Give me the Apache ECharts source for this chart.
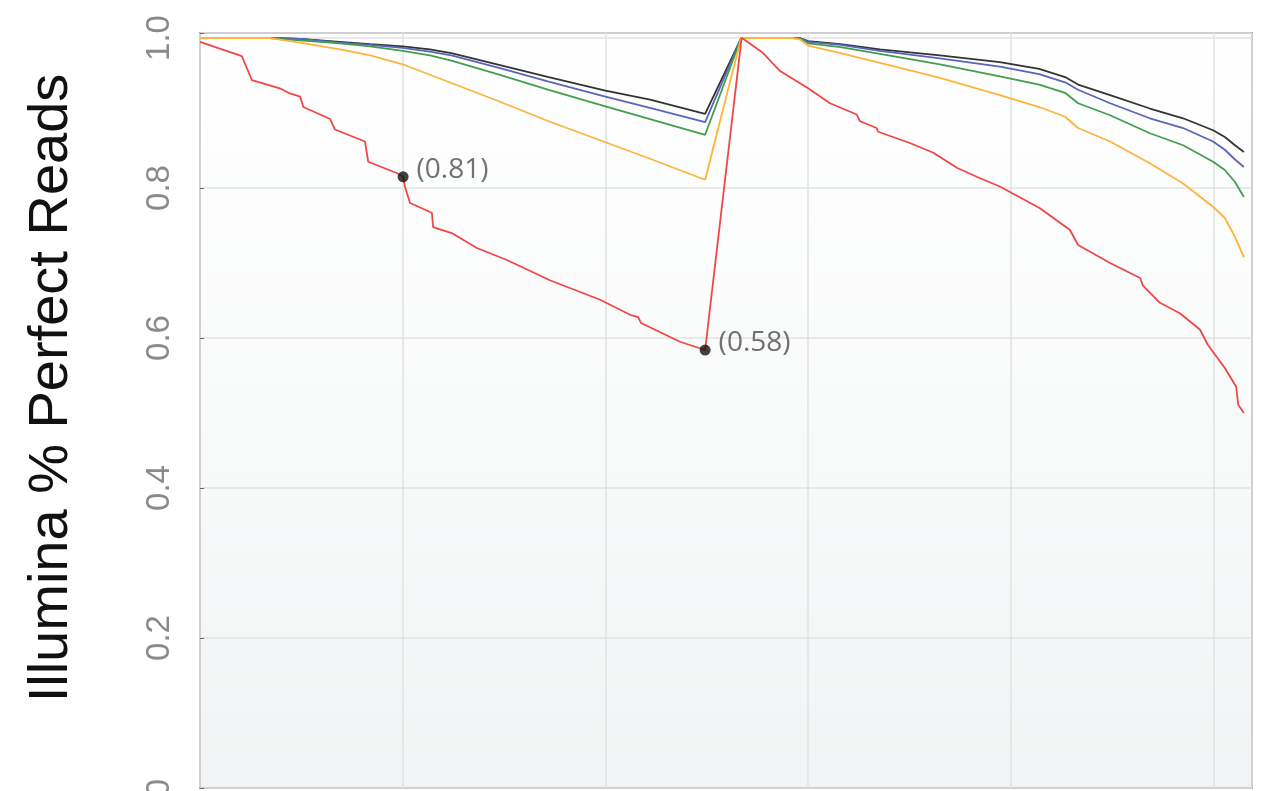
<!DOCTYPE html>
<html>
<head>
<meta charset="utf-8">
<script src="https://cdn.jsdelivr.net/npm/echarts@6/dist/echarts.min.js"></script>
<style>
html,body{margin:0;padding:0;background:#fff;}
#chart{width:1262px;height:791px;}
</style>
</head>
<body>
<div id="chart"></div>
<script>
// ---- data (x = sequencing cycle, y = fraction of perfect reads) ----
const yTicks = [0, 0.2, 0.4, 0.6, 0.8, 1.0];
const yTitle = 'Illumina % Perfect Reads';

const topCycles = [0, 17.3, 19.7, 24.7, 34.5, 42, 50, 56.7, 62, 74, 86, 100, 111, 124.6,
                   133.5, 146.3, 148, 150, 158, 167.7, 182.5, 197.3, 207, 213.4, 216.6, 224.5, 234.3, 242.5, 249.9, 252.8, 255.3, 257.5];
const blackValues  = [1, 1, 1, 0.999, 0.995, 0.992, 0.989, 0.985, 0.980, 0.964, 0.948, 0.930, 0.918, 0.899,
                      1, 1, 1, 0.996, 0.992, 0.985, 0.977, 0.968, 0.959, 0.948, 0.938, 0.924, 0.906, 0.893, 0.877, 0.868, 0.857, 0.848];
const blueValues   = [1, 1, 1, 0.999, 0.994, 0.991, 0.987, 0.982, 0.977, 0.960, 0.942, 0.922, 0.907, 0.888,
                      1, 1, 1, 0.995, 0.991, 0.983, 0.973, 0.962, 0.952, 0.941, 0.931, 0.913, 0.893, 0.880, 0.862, 0.851, 0.838, 0.828];
const greenValues  = [1, 1, 0.999, 0.997, 0.993, 0.989, 0.983, 0.977, 0.970, 0.951, 0.931, 0.909, 0.892, 0.871,
                      1, 1, 0.999, 0.993, 0.988, 0.979, 0.965, 0.949, 0.938, 0.927, 0.913, 0.897, 0.873, 0.857, 0.835, 0.824, 0.808, 0.788];
const orangeValues = [1, 1, 0.998, 0.994, 0.985, 0.977, 0.965, 0.951, 0.940, 0.915, 0.889, 0.861, 0.839, 0.811,
                      1, 1, 0.998, 0.990, 0.980, 0.967, 0.947, 0.924, 0.908, 0.895, 0.880, 0.862, 0.833, 0.806, 0.775, 0.760, 0.735, 0.708];

const redCycles = [0, 10.3, 12.8, 19.7, 21.8, 24.7, 25.5, 32.1, 33.3, 40.7, 41.5, 48.5, 50.1, 50.6, 51.8, 57.2, 57.5, 62.1, 68.3, 75.7, 86.3, 98.7, 106.1, 108.1, 108.8, 118.4, 124.6,
                   133.6, 134.5, 138.9, 143.1, 150, 155.4, 162, 162.8, 166.9, 167.3, 175.1, 180.9, 186.7, 192, 197.3, 207.2, 214.6, 216.6, 224.5, 231.9, 232.6, 236.8, 241.7, 246.7, 248.6, 252.8, 255.6, 256.1, 257.5];
const redValues = [0.995, 0.976, 0.944, 0.933, 0.927, 0.922, 0.908, 0.892, 0.878, 0.862, 0.835, 0.82, 0.815, 0.801, 0.78, 0.767, 0.748, 0.74, 0.72, 0.704, 0.677, 0.651, 0.631, 0.628, 0.62, 0.595, 0.584,
                   1.0, 0.997, 0.98, 0.956, 0.933, 0.913, 0.898, 0.889, 0.88, 0.875, 0.86, 0.847, 0.827, 0.814, 0.802, 0.773, 0.744, 0.724, 0.70, 0.68, 0.67, 0.647, 0.633, 0.611, 0.591, 0.56, 0.535, 0.511, 0.50];

const markCycles = [50.1, 124.6];
const markValues = [0.815, 0.584];
const markLabels = ['(0.81)', '(0.58)'];

const colors = { black: '#333333', blue: '#5a64b8', green: '#3f9f4c', orange: '#fdb43c', red: '#f04646' };

function pairs(xs, ys) { return xs.map((x, i) => [x, ys[i]]); }

const chart = echarts.init(document.getElementById('chart'), null, { renderer: 'canvas' });

function lineSeries(name, data, color) {
  return {
    name, type: 'line', data, showSymbol: false, symbol: 'none',
    lineStyle: { color, width: 1.8 }, itemStyle: { color },
    animation: false, z: 2
  };
}

const option = {
  animation: false,
  backgroundColor: '#ffffff',
  grid: {
    left: 200, right: 10, top: 33, bottom: 3,
    show: true,
    borderColor: '#9a9a9a', borderWidth: 2,
    backgroundColor: new echarts.graphic.LinearGradient(0, 0, 0, 1, [
      { offset: 0, color: '#ffffff' },
      { offset: 0.5, color: '#f9fafa' },
      { offset: 1, color: '#f2f3f4' }
    ]),
    containLabel: false,
    outerBoundsMode: 'none'
  },
  xAxis: {
    type: 'value', min: 0, max: 259.5, interval: 50,
    axisLine: { show: false }, axisTick: { show: false }, axisLabel: { show: false },
    splitLine: { show: true, lineStyle: { color: '#e2e2e2', width: 1.5 } }
  },
  yAxis: {
    type: 'value', min: 0, max: 1.0067, interval: 0.2,
    axisLine: { show: false },
    axisTick: { show: true, inside: true, length: 4, lineStyle: { color: '#666' } },
    splitLine: { show: true, lineStyle: { color: '#e2e2e2', width: 1.5 } },
    axisLabel: {
      rotate: 90, margin: 24, color: '#8a8a8a',
      fontFamily: 'Liberation Sans', fontSize: 33,
      formatter: function (v) {
        const idx = yTicks.findIndex(t => Math.abs(t - v) < 1e-6);
        if (idx < 0) return '';
        return yTicks[idx] === 0 ? '0' : yTicks[idx].toFixed(1);
      }
    }
  },
  graphic: [{
    type: 'text', x: 52, y: 388, rotation: Math.PI / 2,
    style: {
      text: yTitle, fill: '#111111',
      font: '56px "Liberation Sans"', align: 'center', verticalAlign: 'middle'
    }
  }],
  series: [
    lineSeries('black', pairs(topCycles, blackValues), colors.black),
    lineSeries('blue', pairs(topCycles, blueValues), colors.blue),
    lineSeries('green', pairs(topCycles, greenValues), colors.green),
    lineSeries('orange', pairs(topCycles, orangeValues), colors.orange),
    lineSeries('red', pairs(redCycles, redValues), colors.red),
    {
      type: 'scatter', symbol: 'circle', symbolSize: 11, z: 5,
      itemStyle: { color: '#111111' },
      data: markCycles.map((x, i) => ({ value: [x, markValues[i]], label: { formatter: markLabels[i] } })),
      label: {
        show: true, position: 'right', distance: 8, offset: [0, -7],
        color: '#4d4d4d', fontFamily: 'Open Sans', fontSize: 28
      },
      animation: false
    }
  ]
};
chart.setOption(option);
</script>
</body>
</html>
